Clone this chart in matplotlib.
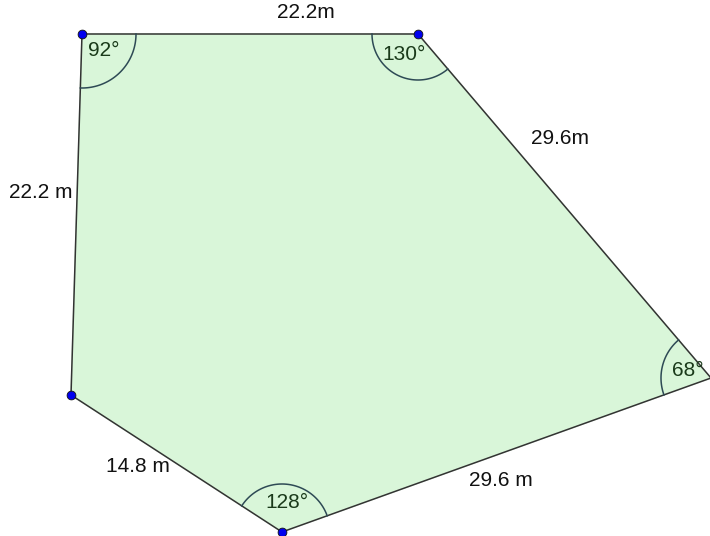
import numpy as np
import matplotlib
matplotlib.use('Agg')
import matplotlib.pyplot as plt

# polygon vertices (image pixel coordinates, y downwards)
vx = [82, 418, 711, 282, 71]
vy = [34, 34, 378, 532, 395]

# side labels
side_labels = ['22.2m', '29.6m', '29.6 m', '14.8 m', '22.2 m']
side_lx = [306, 560, 501, 138, 41]
side_ly = [13, 139, 481, 466, 193]

# angle labels at vertices A, B, C, D
angle_vertex = [0, 1, 2, 3]
angle_labels = ['92°', '130°', '68°', '128°']
angle_lx = [104, 404, 688, 287]
angle_ly = [51, 55, 370, 503]
arc_r = [54, 46, 50, 48]

plt.rcParams['font.family'] = ['Liberation Sans', 'DejaVu Sans']

fig = plt.figure(figsize=(7.1, 5.36), dpi=100)
ax = fig.add_axes([0, 0, 1, 1])
ax.set_xlim(0, 710)
ax.set_ylim(536, 0)
ax.axis('off')

ax.fill(vx, vy, color='#d9f6d9', zorder=1)
ax.plot(vx + [vx[0]], vy + [vy[0]], color='#333333', lw=1.1, zorder=2)

n = len(vx)
for k, i in enumerate(angle_vertex):
    p = np.array([vx[i], vy[i]], float)
    a = np.array([vx[(i + 1) % n], vy[(i + 1) % n]], float) - p
    b = np.array([vx[i - 1], vy[i - 1]], float) - p
    t1 = np.arctan2(a[1], a[0])
    t2 = np.arctan2(b[1], b[0])
    d = (t2 - t1 + np.pi) % (2 * np.pi) - np.pi
    t = t1 + np.linspace(0, d, 60)
    ax.plot(p[0] + arc_r[k] * np.cos(t), p[1] + arc_r[k] * np.sin(t),
            color='#2e4a55', lw=1.1, zorder=3)
    ax.text(angle_lx[k], angle_ly[k], angle_labels[k], fontsize=15,
            color='#1a3a1a', ha='center', va='center', zorder=4)

for s, x, y in zip(side_labels, side_lx, side_ly):
    ax.text(x, y, s, fontsize=15, color='#111111', ha='center', va='center', zorder=4)

ax.scatter([vx[0], vx[1], vx[3], vx[4]], [vy[0], vy[1], vy[3], vy[4]],
           s=40, color='#0000ee', edgecolors='#111111', linewidths=0.6, zorder=5)

fig.savefig('out.png', dpi=100)
